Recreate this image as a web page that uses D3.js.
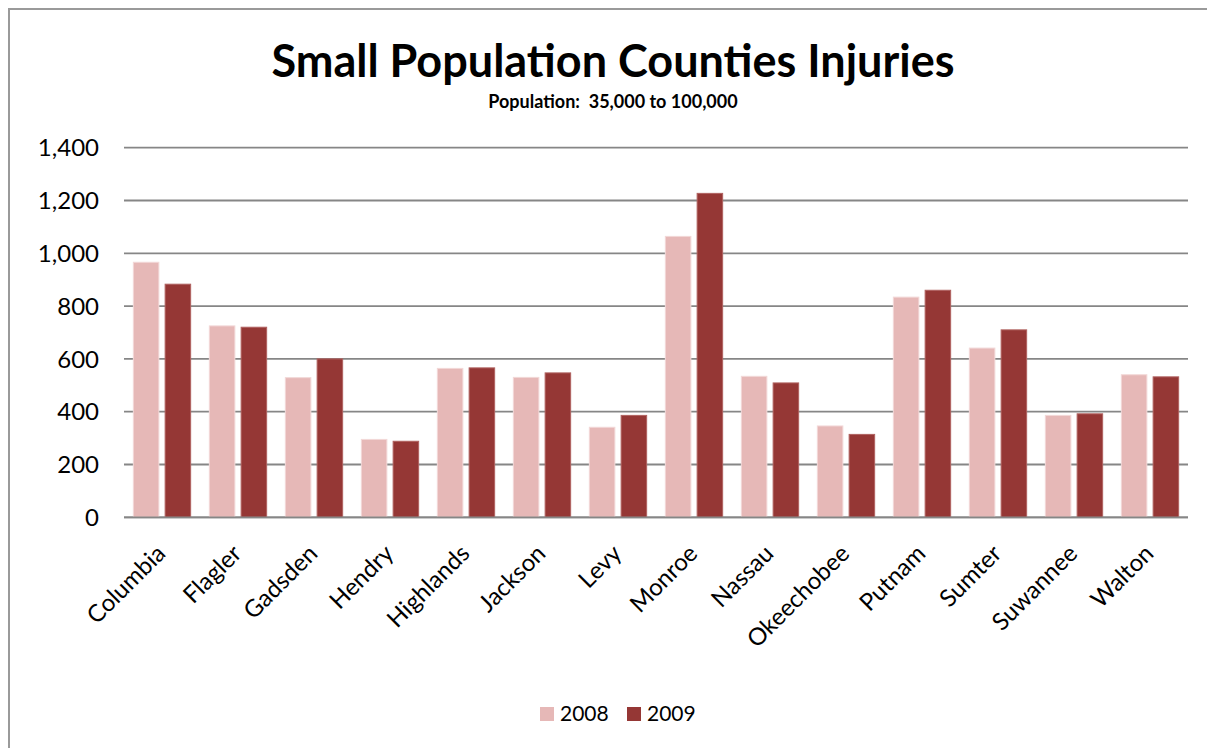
<!DOCTYPE html>
<html>
<head>
<meta charset="utf-8">
<script src="https://cdn.jsdelivr.net/npm/d3@7"></script>
<style>
  html, body { margin: 0; padding: 0; background: #fff; }
  svg { display: block; font-family: Lato, "Open Sans", sans-serif; }
</style>
</head>
<body>
<svg id="chart" width="1207" height="748"></svg>
<script>
const counties = ["Columbia","Flagler","Gadsden","Hendry","Highlands","Jackson","Levy","Monroe","Nassau","Okeechobee","Putnam","Sumter","Suwannee","Walton"];
const series = ["2008","2009"];
const values2008 = [966, 725, 529, 295, 564, 530, 341, 1064, 534, 346, 834, 641, 386, 540];
const values2009 = [883, 720, 600, 288, 566, 547, 386, 1227, 509, 314, 860, 710, 392, 532];
const yTicks = [0, 200, 400, 600, 800, 1000, 1200, 1400];
const colors = ["#E6B8B7", "#953735"];
const strokes = ["#F2D8D7", "#B06260"];
const titleText = "Small Population Counties Injuries";
const subtitleText = "Population:  35,000 to 100,000";

const svg = d3.select("#chart");

// outer chart border (cropped at right/bottom)
svg.append("path")
  .attr("d", "M9,748 L9,9 L1207,9")
  .attr("fill", "none").attr("stroke", "#9a9a9a").attr("stroke-width", 2);

const plot = {left: 124, right: 1188, top: 147.7, bottom: 517.3};

const x0 = d3.scaleBand().domain(counties).range([plot.left, plot.right]).paddingInner(0.246).paddingOuter(0.123);
const x1 = d3.scaleBand().domain(series).range([0, x0.bandwidth()]).paddingInner(0.197);
const y = d3.scaleLinear().domain([0, 1400]).range([plot.bottom, plot.top]);

// gridlines
svg.append("g").selectAll("line").data(yTicks).join("line")
  .attr("x1", plot.left).attr("x2", plot.right)
  .attr("y1", d => y(d)).attr("y2", d => y(d))
  .attr("stroke", "#868686").attr("stroke-width", 1.8);

// y axis labels
const fmt = d3.format(",");
svg.append("g").selectAll("text").data(yTicks).join("text")
  .attr("x", 99).attr("y", d => y(d))
  .attr("dy", "0.36em")
  .attr("text-anchor", "end")
  .attr("font-size", 24).attr("fill", "#000")
  .text(d => fmt(d));

// bars
const data = counties.map((c, i) => ({county: c, vals: [values2008[i], values2009[i]]}));
const groups = svg.append("g").selectAll("g").data(data).join("g")
  .attr("transform", d => `translate(${x0(d.county)},0)`);
groups.selectAll("rect").data(d => d.vals.map((v, j) => ({key: series[j], v, j}))).join("rect")
  .attr("x", d => x1(d.key))
  .attr("width", x1.bandwidth())
  .attr("y", d => y(d.v))
  .attr("height", d => y(0) - y(d.v))
  .attr("fill", d => colors[d.j])
  .attr("stroke", d => strokes[d.j]).attr("stroke-width", 1);

// baseline redraw on top
svg.append("line").attr("x1", plot.left).attr("x2", plot.right)
  .attr("y1", y(0)).attr("y2", y(0)).attr("stroke", "#868686").attr("stroke-width", 1.8);

// category labels rotated
svg.append("g").selectAll("text").data(counties).join("text")
  .attr("transform", d => `translate(${x0(d) + x0.bandwidth()/2 + 5},${555}) rotate(-45)`)
  .attr("text-anchor", "end")
  .attr("font-size", 24).attr("fill", "#000")
  .text(d => d);

// title
svg.append("text").attr("x", 613).attr("y", 77)
  .attr("text-anchor", "middle").attr("font-weight", "bold").attr("font-size", 45)
  .text(titleText);
svg.append("text").attr("x", 613).attr("y", 108)
  .attr("text-anchor", "middle").attr("font-weight", "bold").attr("font-size", 18)
  .attr("xml:space", "preserve").style("white-space", "pre")
  .text(subtitleText);

// legend
const legend = svg.append("g");
const legX = [540, 627];
series.forEach((s, i) => {
  legend.append("rect").attr("x", legX[i]).attr("y", 707).attr("width", 14).attr("height", 14).attr("fill", colors[i]);
  legend.append("text").attr("x", legX[i] + 20).attr("y", 721)
    .attr("font-size", 21).attr("fill", "#000").text(s);
});
</script>
</body>
</html>
